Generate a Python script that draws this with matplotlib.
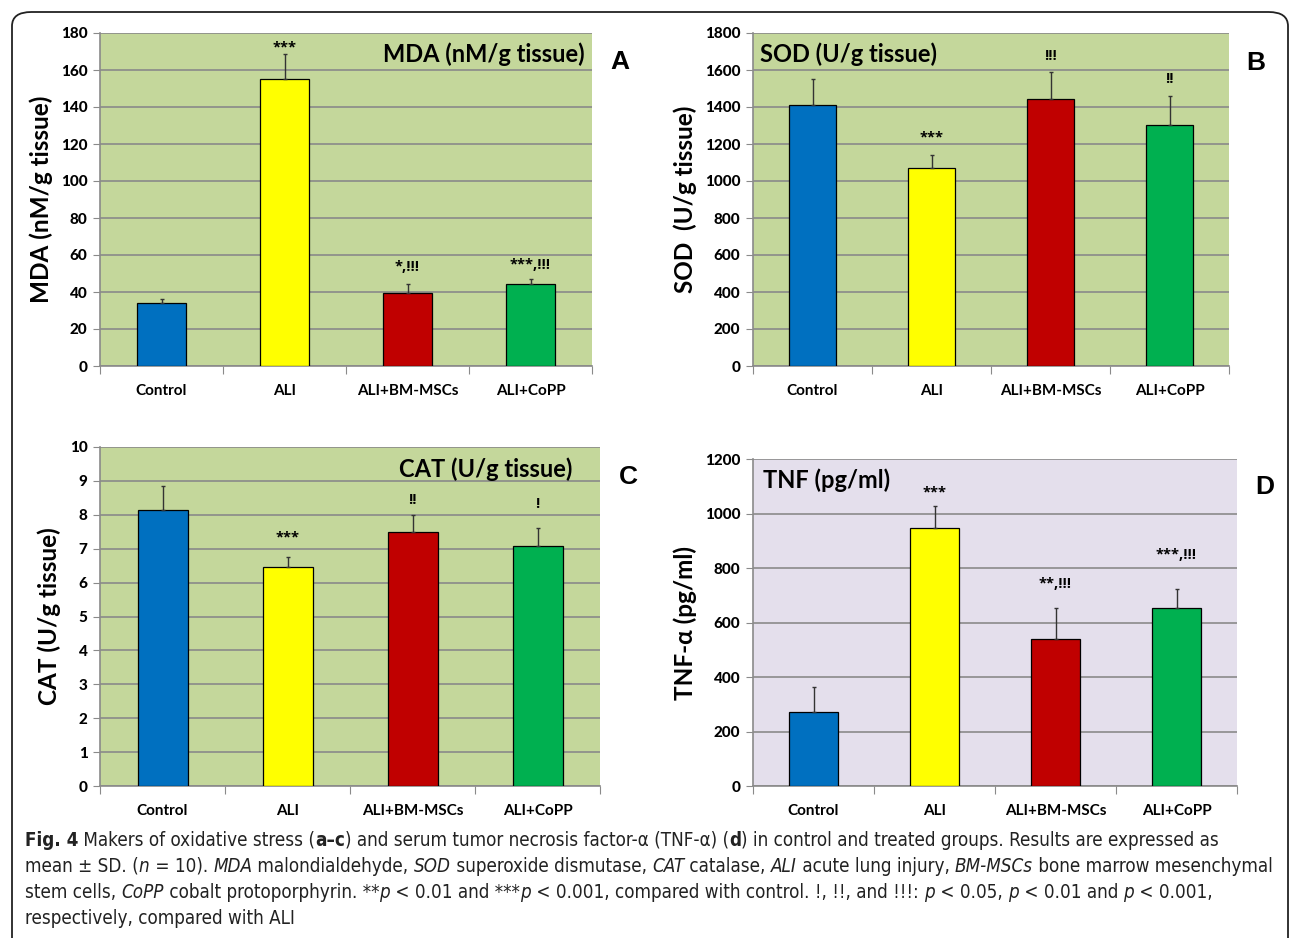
import matplotlib.pyplot as plt
from matplotlib.patches import FancyBboxPatch

# groups and colours
groups = ["Control", "ALI", "ALI+BM-MSCs", "ALI+CoPP"]
bar_colors = ["#0070C0", "#FFFF00", "#C00000", "#00B050"]

# A - MDA
mda = [34.3, 155.4, 39.4, 44.1]
mda_sd = [2.0, 13.2, 4.7, 2.7]
mda_marks = ["", "***", "*,!!!", "***,!!!"]

# B - SOD
sod = [1410, 1072, 1444, 1305]
sod_sd = [141, 71, 143, 157]
sod_marks = ["", "***", "!!!", "!!"]

# C - CAT
cat = [8.13, 6.46, 7.48, 7.07]
cat_sd = [0.73, 0.29, 0.50, 0.53]
cat_marks = ["", "***", "!!", "!"]

# D - TNF
tnf = [273, 946, 539, 654]
tnf_sd = [89, 82, 115, 70]
tnf_marks = ["", "***", "**,!!!", "***,!!!"]

FONT = ["Lato", "DejaVu Sans"]
MARK_FONT = ["Open Sans", "DejaVu Sans"]
GREEN_BG = "#C4D79B"
LAV_BG = "#E4DFEC"
GRID = "#8A8A8A"

fig = plt.figure(figsize=(12.9, 9.38), dpi=100)


def panel(rect, vals, sd, marks, offs, ymax, step, ylabel, title, tx, ha, bg, letter, lpos):
    ax = fig.add_axes(rect)
    ax.set_facecolor(bg)
    x = range(len(groups))
    ax.bar(x, vals, width=0.4, color=bar_colors, edgecolor="black", linewidth=0.9, zorder=3)
    ax.errorbar(x, vals, yerr=[[0] * len(sd), sd], fmt="none", ecolor="#333333",
                elinewidth=1.0, capsize=1.5, capthick=1.0, zorder=4)
    for i, m in enumerate(marks):
        if m:
            ax.annotate(m, (i, vals[i] + sd[i]), xytext=(0, offs[i]), textcoords="offset pixels",
                        ha="center", va="center", fontsize=10.5, fontweight="bold", family=MARK_FONT)
    ax.set_xlim(-0.5, 3.5)
    ax.set_ylim(0, ymax)
    nt = int(round(ymax / step)) + 1
    ax.set_yticks([k * step for k in range(nt)])
    ax.set_yticklabels([f"{k * step:g}" for k in range(nt)],
                       fontsize=11, fontweight="black", family=FONT)
    ax.grid(axis="y", color=GRID, linewidth=1.2, zorder=1)
    ax.set_axisbelow(True)
    ax.set_xticks([-0.5, 0.5, 1.5, 2.5, 3.5])
    ax.set_xticklabels([])
    ax.set_xticks(list(x), minor=True)
    ax.set_xticklabels(groups, minor=True, fontsize=11, fontweight="bold", family=FONT)
    ax.tick_params(axis="x", which="minor", length=0, pad=13)
    ax.tick_params(axis="x", which="major", length=6, color=GRID, direction="out")
    ax.tick_params(axis="y", length=5, color=GRID, pad=4)
    for s in ["top", "right"]:
        ax.spines[s].set_visible(False)
    for s in ["left", "bottom"]:
        ax.spines[s].set_color(GRID)
        ax.spines[s].set_linewidth(1.2)
    ax.set_ylabel(ylabel, fontsize=17.5, fontweight="bold", family=FONT, labelpad=6)
    ax.text(tx, 0.935, title, transform=ax.transAxes, ha=ha, va="center",
            fontsize=17, fontweight="bold", family=FONT)
    fig.text(lpos[0], lpos[1], letter, ha="center", va="center", fontsize=19,
             fontweight="bold", family=["Liberation Sans", "DejaVu Sans"])
    return ax


H = 938.0
W = 1290.0


def rect(l, r, t, b):
    return [l / W, 1 - b / H, (r - l) / W, (b - t) / H]


panel(rect(100, 592, 33, 366), mda, mda_sd, mda_marks, [0, 7, 17, 14], 180, 20,
      "MDA (nM/g tissue)", "MDA (nM/g tissue)", 0.985, "right", GREEN_BG, "A", (620 / W, 1 - 62 / H))
panel(rect(753, 1229, 33, 366), sod, sod_sd, sod_marks, [0, 17, 16, 17], 1800, 200,
      "SOD  (U/g tissue)", "SOD (U/g tissue)", 0.015, "left", GREEN_BG, "B", (1256 / W, 1 - 63 / H))
panel(rect(100, 600, 447, 786), cat, cat_sd, cat_marks, [0, 20, 15, 24], 10, 1,
      "CAT (U/g tissue)", "CAT (U/g tissue)", 0.945, "right", GREEN_BG, "C", (628 / W, 1 - 477 / H))
panel(rect(753, 1237, 459, 786), tnf, tnf_sd, tnf_marks, [0, 13, 24, 34], 1200, 200,
      "TNF-α (pg/ml)", "TNF (pg/ml)", 0.02, "left", LAV_BG, "D", (1265 / W, 1 - 487 / H))

# frame round the figure
frame = FancyBboxPatch((12 / W, -0.05), (1288 - 12) / W, 1 - 12 / H + 0.05,
                       boxstyle="round,pad=0,rounding_size=0.015", transform=fig.transFigure,
                       fill=False, edgecolor="#222222", linewidth=1.3)
fig.patches.append(frame)

# caption with mixed styles
caption = [
    [("Fig. 4", "bold"), (" Makers of oxidative stress (", ""), ("a–c", "bold"),
     (") and serum tumor necrosis factor-α (TNF-α) (", ""), ("d", "bold"),
     (") in control and treated groups. Results are expressed as", "")],
    [("mean ± SD. (", ""), ("n", "italic"), (" = 10). ", ""), ("MDA", "italic"),
     (" malondialdehyde, ", ""), ("SOD", "italic"), (" superoxide dismutase, ", ""),
     ("CAT", "italic"), (" catalase, ", ""), ("ALI", "italic"), (" acute lung injury, ", ""),
     ("BM-MSCs", "italic"), (" bone marrow mesenchymal", "")],
    [("stem cells, ", ""), ("CoPP", "italic"), (" cobalt protoporphyrin. **", ""), ("p", "italic"),
     (" < 0.01 and ***", ""), ("p", "italic"), (" < 0.001, compared with control. !, !!, and !!!: ", ""),
     ("p", "italic"), (" < 0.05, ", ""), ("p", "italic"), (" < 0.01 and ", ""), ("p", "italic"),
     (" < 0.001,", "")],
    [("respectively, compared with ALI", "")],
]
renderer = fig.canvas.get_renderer()
line_y = [840, 866, 892, 918]
for line, yy in zip(caption, line_y):
    xx = 25.0
    for txt, sty in line:
        t = fig.text(xx / W, 1 - yy / H, txt, ha="left", va="center", fontsize=13.5,
                     family="DejaVu Sans", fontstretch="condensed", color="#222222",
                     fontweight="bold" if sty == "bold" else "normal",
                     fontstyle="italic" if sty == "italic" else "normal")
        bb = t.get_window_extent(renderer)
        xx += bb.width

fig.savefig("out.png", dpi=100)
